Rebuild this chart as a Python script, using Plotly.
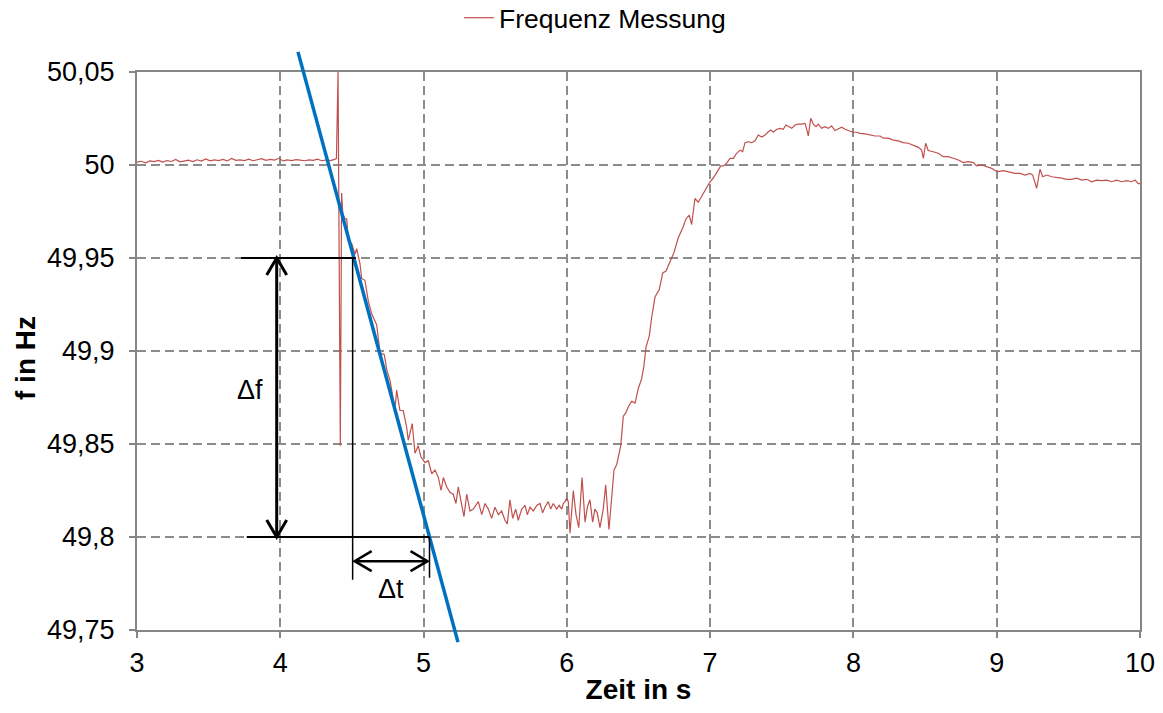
import plotly.graph_objects as go

# ---------------- Data ----------------
zeit_ruhe = [3.00, 3.03, 3.06, 3.09, 3.12, 3.15, 3.18, 3.21, 3.24, 3.27, 3.30, 3.33, 3.36, 3.39,
             3.42, 3.45, 3.48, 3.51, 3.54, 3.57, 3.60, 3.63, 3.66, 3.69, 3.72, 3.75, 3.78, 3.81,
             3.84, 3.87, 3.90, 3.93, 3.96, 3.99, 4.02, 4.05, 4.08, 4.11, 4.14, 4.17, 4.20, 4.23,
             4.26, 4.29, 4.32, 4.35, 4.38, 4.392]
f_ruhe = [50.0015, 50.0020, 50.0012, 50.0022, 50.0018, 50.0025, 50.0016, 50.0024, 50.0019, 50.0030,
          50.0017, 50.0023, 50.0026, 50.0018, 50.0028, 50.0021, 50.0033, 50.0022, 50.0027, 50.0024,
          50.0030, 50.0022, 50.0035, 50.0025, 50.0028, 50.0024, 50.0031, 50.0023, 50.0029, 50.0034,
          50.0025, 50.0030, 50.0026, 50.0036, 50.0022, 50.0027, 50.0024, 50.0029, 50.0026, 50.0023,
          50.0028, 50.0025, 50.0031, 50.0023, 50.0027, 50.0024, 50.0030, 50.0036]

zeit_stoerung = [4.403, 4.419, 4.428]
f_stoerung = [50.050, 49.849, 49.985]

zeit_abfall = [4.436, 4.452, 4.464, 4.475, 4.498, 4.521, 4.533, 4.556, 4.568, 4.591, 4.614, 4.638,
               4.673, 4.696, 4.726, 4.743, 4.766, 4.782, 4.800, 4.812, 4.835, 4.858, 4.882, 4.893,
               4.921, 4.940, 4.963, 4.982, 5.010, 5.033, 5.057, 5.080, 5.103, 5.122, 5.138, 5.161,
               5.184, 5.207]
f_abfall = [49.974, 49.971, 49.971, 49.959, 49.958, 49.952, 49.955, 49.947, 49.939, 49.938, 49.927,
            49.920, 49.914, 49.899, 49.898, 49.890, 49.884, 49.877, 49.868, 49.879, 49.868, 49.868,
            49.859, 49.852, 49.861, 49.845, 49.849, 49.843, 49.840, 49.841, 49.834, 49.836, 49.832,
            49.825, 49.832, 49.827, 49.824, 49.823]

zeit_tal = [5.226, 5.242, 5.259, 5.282, 5.301, 5.324, 5.347, 5.382, 5.406, 5.429, 5.452, 5.475,
            5.498, 5.522, 5.545, 5.568, 5.584, 5.603, 5.622, 5.643, 5.661, 5.685, 5.708, 5.724,
            5.743, 5.766, 5.790, 5.813, 5.831, 5.847, 5.870, 5.887, 5.905, 5.929, 5.947, 5.964,
            5.975, 5.987, 5.999, 6.010, 6.022, 6.045, 6.064, 6.083, 6.106, 6.127, 6.143, 6.161,
            6.180, 6.196, 6.212, 6.231, 6.254, 6.271, 6.294]
f_tal = [49.818, 49.827, 49.820, 49.811, 49.823, 49.814, 49.815, 49.819, 49.812, 49.818, 49.815,
         49.810, 49.816, 49.812, 49.814, 49.809, 49.807, 49.820, 49.810, 49.815, 49.809, 49.815,
         49.817, 49.812, 49.816, 49.814, 49.817, 49.818, 49.813, 49.816, 49.819, 49.815, 49.818,
         49.815, 49.817, 49.815, 49.818, 49.819, 49.821, 49.819, 49.802, 49.825, 49.812, 49.805,
         49.832, 49.808, 49.816, 49.820, 49.808, 49.815, 49.813, 49.805, 49.815, 49.828, 49.804]

zeit_anstieg = [6.313, 6.329, 6.348, 6.376, 6.394, 6.413, 6.429, 6.452, 6.476, 6.499, 6.522, 6.538,
                6.552, 6.575, 6.592, 6.615, 6.645, 6.669, 6.692, 6.720, 6.748, 6.778, 6.808, 6.831,
                6.854, 6.871, 6.894, 6.917, 6.952, 6.976, 6.999, 7.022, 7.046, 7.074, 7.092, 7.115,
                7.139, 7.162, 7.185, 7.209, 7.227, 7.243, 7.266, 7.290, 7.313, 7.336, 7.360, 7.383,
                7.406, 7.423, 7.441, 7.465, 7.488, 7.510, 7.529, 7.545, 7.569, 7.592, 7.615, 7.639,
                7.662, 7.674, 7.685, 7.702]
f_anstieg = [49.823, 49.836, 49.839, 49.849, 49.865, 49.867, 49.870, 49.873, 49.872, 49.880, 49.885,
             49.892, 49.902, 49.908, 49.918, 49.929, 49.933, 49.942, 49.943, 49.948, 49.953, 49.961,
             49.966, 49.971, 49.973, 49.968, 49.982, 49.980, 49.985, 49.988, 49.991, 49.993, 49.996,
             49.9995, 49.9995, 50.0010, 50.0036, 50.0036, 50.0063, 50.0080, 50.0072, 50.0120,
             50.0125, 50.0120, 50.0130, 50.0161, 50.0150, 50.0161, 50.0179, 50.0188, 50.0176,
             50.0192, 50.0197, 50.0192, 50.0215, 50.0206, 50.0197, 50.0215, 50.0220, 50.0220,
             50.0224, 50.0192, 50.0156, 50.0251]

zeit_ausklang = [7.720, 7.739, 7.755, 7.778, 7.801, 7.825, 7.848, 7.871, 7.894, 7.918, 7.941, 7.964,
                 7.995, 8.023, 8.046, 8.081, 8.116, 8.151, 8.186, 8.208, 8.243, 8.278, 8.313, 8.348,
                 8.383, 8.418, 8.453, 8.476, 8.488, 8.504, 8.522, 8.557, 8.592, 8.627, 8.662, 8.697,
                 8.732, 8.767, 8.802, 8.836, 8.860, 8.895, 8.930, 8.965, 8.988, 9.011, 9.046, 9.081,
                 9.128, 9.163, 9.197, 9.232, 9.251, 9.279, 9.302, 9.321, 9.349, 9.384, 9.419, 9.453,
                 9.488, 9.523, 9.558, 9.593, 9.628, 9.663, 9.698, 9.733, 9.768, 9.802, 9.837, 9.872,
                 9.907, 9.942, 9.965, 9.988, 10.000]
f_ausklang = [50.0220, 50.0206, 50.0220, 50.0197, 50.0206, 50.0197, 50.0210, 50.0185, 50.0192,
              50.0203, 50.0192, 50.0185, 50.0176, 50.0176, 50.0170, 50.0167, 50.0161, 50.0156,
              50.0156, 50.0144, 50.0144, 50.0134, 50.0130, 50.0120, 50.0117, 50.0106, 50.0095,
              50.0080, 50.0036, 50.0117, 50.0078, 50.0071, 50.0063, 50.0045, 50.0045, 50.0036,
              50.0027, 50.0013, 50.0018, 50.0013, 49.9995, 50.0000, 49.9990, 49.9982, 49.9970,
              49.9964, 49.9970, 49.9964, 49.9955, 49.9955, 49.9946, 49.9955, 49.9946, 49.9875,
              49.9977, 49.9937, 49.9946, 49.9937, 49.9934, 49.9929, 49.9923, 49.9923, 49.9929,
              49.9919, 49.9923, 49.9910, 49.9919, 49.9916, 49.9919, 49.9910, 49.9919, 49.9910,
              49.9916, 49.9910, 49.9919, 49.9900, 49.9900]

zeit = zeit_ruhe + zeit_stoerung + zeit_abfall + zeit_tal + zeit_anstieg + zeit_ausklang
frequenz = f_ruhe + f_stoerung + f_abfall + f_tal + f_anstieg + f_ausklang

# Axes
x_bereich = [3, 10]
y_bereich = [49.75, 50.05]
x_tickwerte = [3, 4, 5, 6, 7, 8, 9, 10]
x_ticktext = ["3", "4", "5", "6", "7", "8", "9", "10"]
y_tickwerte = [49.75, 49.80, 49.85, 49.90, 49.95, 50.00, 50.05]
y_ticktext = ["49,75", "49,8", "49,85", "49,9", "49,95", "50", "50,05"]

# Tangent (blue line) end points
tangente_t = [4.1236, 5.2402]
tangente_f = [50.0608, 49.7435]

# Delta construction
df_oben = 49.95
df_unten = 49.80
df_pfeil_t = 3.975
hlinie_oben_start = 3.726
hlinie_unten_start = 3.766
dt_start = 4.505
dt_pfeil_f = 49.787
vlinie_ende_f = 49.777
df_label = (3.79, 49.879)
dt_label = (4.773, 49.772)

# ---------------- Layout constants ----------------
W, H = 1163, 713
ML, MR, MT, MB = 137, 23, 72, 83
PW = W - ML - MR
PH = H - MT - MB
FONT = "Liberation Sans, Arial, sans-serif"

steigung = (tangente_f[1] - tangente_f[0]) / (tangente_t[1] - tangente_t[0])
dt_ende = tangente_t[0] + (df_unten - tangente_f[0]) / steigung
t_oben_tangente = tangente_t[0] + (df_oben - tangente_f[0]) / steigung

px_x = (x_bereich[1] - x_bereich[0]) / PW   # data units per pixel
px_y = (y_bereich[1] - y_bereich[0]) / PH

def to_paper_x(t):
    return (t - x_bereich[0]) / (x_bereich[1] - x_bereich[0])

def to_paper_y(f):
    return (f - y_bereich[0]) / (y_bereich[1] - y_bereich[0])

fig = go.Figure()
fig.add_trace(go.Scatter(
    x=zeit, y=frequenz, mode="lines", name="Frequenz Messung",
    line=dict(color="#C0504D", width=1.2)
))

shapes = []

def linie(x0, y0, x1, y1, w, color="black"):
    shapes.append(dict(type="line", xref="x", yref="y", x0=x0, y0=y0, x1=x1, y1=y1,
                       line=dict(color=color, width=w), layer="above"))

# Blue tangent, drawn in paper coords so it can run past the plot frame
shapes.append(dict(type="line", xref="paper", yref="paper",
                   x0=to_paper_x(tangente_t[0]), y0=to_paper_y(tangente_f[0]),
                   x1=to_paper_x(tangente_t[1]), y1=to_paper_y(tangente_f[1]),
                   line=dict(color="#0070C0", width=3.5), layer="above"))

# Horizontal reference lines
linie(hlinie_oben_start, df_oben, t_oben_tangente + 2 * px_x, df_oben, 2)
linie(hlinie_unten_start, df_unten, dt_ende, df_unten, 2)
# Vertical thin lines
linie(dt_start, df_oben, dt_start, vlinie_ende_f, 1.5)
linie(dt_ende, df_unten, dt_ende, vlinie_ende_f + 2 * px_y, 1.5)

# Δf double arrow
linie(df_pfeil_t, df_oben, df_pfeil_t, df_unten, 3)
hw, hl = 10, 17
for tip, sgn in [(df_oben, -1), (df_unten, 1)]:
    shapes.append(dict(type="path", xref="x", yref="y",
                       path=f"M {df_pfeil_t - hw*px_x},{tip + sgn*hl*px_y} L {df_pfeil_t},{tip} "
                            f"L {df_pfeil_t + hw*px_x},{tip + sgn*hl*px_y}",
                       line=dict(color="black", width=3), layer="above"))

# Δt double arrow
linie(dt_start + 2 * px_x, dt_pfeil_f, dt_ende - 2 * px_x, dt_pfeil_f, 2.5)
for tip, sgn in [(dt_start + 2 * px_x, 1), (dt_ende - 2 * px_x, -1)]:
    shapes.append(dict(type="path", xref="x", yref="y",
                       path=f"M {tip + sgn*hl*px_x},{dt_pfeil_f + hw*px_y} L {tip},{dt_pfeil_f} "
                            f"L {tip + sgn*hl*px_x},{dt_pfeil_f - hw*px_y}",
                       line=dict(color="black", width=2.5), layer="above"))

annotations = [
    dict(x=df_label[0], y=df_label[1], xref="x", yref="y", text="Δf", showarrow=False,
         font=dict(family=FONT, size=27, color="black")),
    dict(x=dt_label[0], y=dt_label[1], xref="x", yref="y", text="Δt", showarrow=False,
         font=dict(family=FONT, size=27, color="black")),
    # y-axis title
    dict(x=-(137 - 25) / PW, y=(630 - 358) / PH, xref="paper", yref="paper",
         text="<b>f in Hz</b>", textangle=-90, showarrow=False,
         xanchor="center", yanchor="middle",
         font=dict(family=FONT, size=28, color="black")),
]

achse = dict(showline=True, linecolor="#868686", linewidth=2, mirror=True,
             showgrid=True, gridcolor="#8c8c8c", gridwidth=1.5, griddash="9px,5px",
             zeroline=False, ticks="outside", ticklen=6, tickcolor="#868686", tickwidth=1.5,
             automargin=False,
             tickfont=dict(family=FONT, size=27, color="black"))

fig.update_layout(
    width=W, height=H,
    margin=dict(l=ML, r=MR, t=MT, b=MB, pad=0, autoexpand=False),
    paper_bgcolor="white", plot_bgcolor="white",
    font=dict(family=FONT, size=27, color="black"),
    showlegend=True,
    legend=dict(orientation="h", x=0.321, xanchor="left", y=1 + 54 / PH, yanchor="middle",
                font=dict(family=FONT, size=26.5, color="black"), bgcolor="rgba(0,0,0,0)",
                itemwidth=30),
    xaxis=dict(range=x_bereich, tickvals=x_tickwerte, ticktext=x_ticktext,
               title=dict(text="<b>Zeit in s</b>", font=dict(family=FONT, size=28), standoff=2),
               ticklabelstandoff=2, **achse),
    yaxis=dict(range=y_bereich, tickvals=y_tickwerte, ticktext=y_ticktext,
               ticklabelstandoff=9, **achse),
    shapes=shapes,
    annotations=annotations,
)

fig.write_html("out.html", config={"displayModeBar": False},
               post_script="document.body.style.margin='0';")
